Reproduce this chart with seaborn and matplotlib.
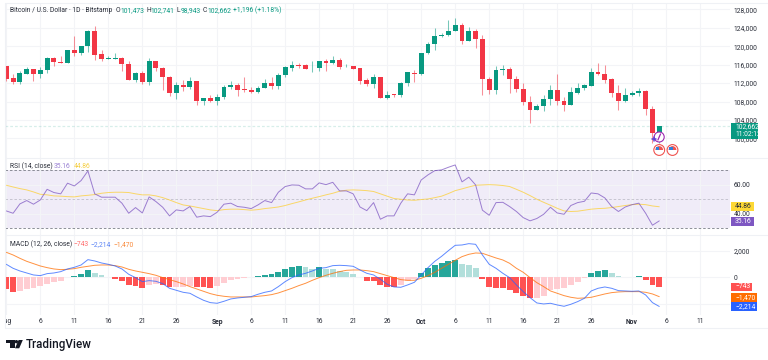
import numpy as np
import pandas as pd
import seaborn as sns
import matplotlib
matplotlib.use("Agg")
import matplotlib.pyplot as plt
from matplotlib.patches import Polygon, Circle, Rectangle, Wedge
from matplotlib.transforms import Bbox

opens = [115715,113114,112318,114052,114992,114052,114919,117449,116582,116437,119184,118606,119979,123303,118244,117304,117304,117377,116148,112679,114125,112246,116798,115281,113330,109861,111595,111089,112462,108199,108704,
         108126,109066,111089,111595,110728,110511,110006,110945,112029,111306,113835,115353,116004,115931,115209,115209,116726,116365,117015,115642,115715,115209,112679,111812,113257,108849,109572,109427,112101,114197,
         113908,118461,120557,122147,122363,123375,124676,121207,123231,121568,112824,110583,114919,115136,112896,110728,107982,106248,107042,108488,110511,108126,107332,109861,110872,111451,114414,113980,112824,109861,108126,
         109355,109861,110366,106392,101473]
highs = [115715,113980,114703,115570,114992,115570,117666,117666,117810,119184,122219,120123,123520,124387,119184,117955,118533,117593,116726,114414,114630,117377,116798,115425,113474,112246,112607,113330,112462,108849,109355,
         109716,111523,112462,111957,113330,111089,111451,112824,113257,114197,115642,116726,116365,116148,116798,116798,117232,117883,117377,116076,115787,115281,113185,113908,113330,110295,109644,112246,114486,114775,
         118533,120990,123881,122797,125688,126049,124965,124098,123737,122436,113257,115715,115931,115425,113619,111957,109138,107477,109355,111595,113908,109066,111089,111957,111812,115281,116293,115931,113040,111595,110872,
         110295,110945,110511,107115,102741]
lows = [112535,111812,111812,113980,112535,113185,114197,115715,116365,116365,117955,118172,118822,117015,116798,117232,117232,114558,112607,112173,111812,111595,114630,110511,109138,108632,110295,110728,107259,107259,107982,
        107187,108488,110656,109283,110150,109861,109933,110872,110800,110800,113402,114703,115209,115064,114341,114630,114703,116148,115136,115425,115064,111884,111378,111017,108704,108632,109066,109066,111378,112173,
        113763,118389,119256,122074,122219,123231,120484,121063,119617,109499,109644,109644,113763,109933,110150,107332,103429,106175,106031,107332,107332,106031,107259,109644,110511,111378,113763,111957,109066,106103,107982,
        109210,109283,105091,98948,98943]
closes = [112968,112318,114125,114992,114052,114919,117449,116582,116437,119184,118606,119979,123303,118172,117232,117449,117449,116148,112679,114125,112246,116798,115281,113330,109933,111595,111161,112462,108199,108704,108126,
          109066,111089,111595,110583,110583,110006,110945,112029,111306,113835,115425,115931,115787,115136,115353,116726,116293,117015,115498,115787,115136,112535,111812,113257,108849,109499,109427,112101,114341,113908,
          118533,120557,122147,122436,123375,124676,121207,123231,121568,112824,110583,114919,115136,112896,110728,107982,106248,107042,108488,110511,108126,107332,110006,110872,111595,114414,113980,112751,109861,108126,109427,
          109861,110366,106392,101261,102662]

rsi = [42.0,40.4,46.8,49.1,46.6,49.5,56.8,54.6,53.7,61.0,59.1,62.8,69.4,53.7,51.4,51.4,51.4,47.3,40.4,44.3,40.6,51.6,48.4,44.5,38.6,42.7,42.0,45.0,37.7,38.6,38.1,
       41.1,46.6,47.3,45.0,44.5,43.6,46.1,49.1,47.7,54.8,58.7,59.8,59.6,57.1,57.1,61.2,60.0,61.6,55.7,55.7,53.7,44.7,42.2,47.7,36.3,38.6,38.6,47.3,53.7,53.0,
       63.2,66.7,69.6,70.1,71.9,73.5,61.9,65.1,59.8,42.5,39.0,47.7,47.9,45.0,41.6,37.4,35.2,36.8,39.7,44.5,40.6,39.7,45.7,47.7,48.6,54.3,53.7,50.9,45.0,41.6,44.7,
       46.3,47.3,40.4,32.2,35.16]
rsi_ma = [59.6,58.4,57.3,56.4,55.0,53.4,53.0,52.3,52.1,51.8,51.6,52.3,52.7,53.2,54.1,54.6,54.8,54.8,54.6,53.7,53.0,53.0,52.3,51.1,49.5,47.7,46.1,45.4,44.5,43.6,42.7,
          42.2,42.9,43.2,43.2,42.9,42.5,42.9,43.6,44.1,44.7,45.7,47.0,48.2,49.5,50.7,51.8,53.0,54.1,55.5,56.2,56.4,56.2,55.9,55.3,53.7,52.1,50.5,50.0,49.5,49.3,
          49.8,50.2,51.1,52.1,53.9,55.9,57.1,58.4,59.6,59.8,60.0,59.8,59.4,58.7,56.8,54.8,52.5,50.0,47.9,45.9,43.8,42.0,41.6,41.8,42.5,43.2,43.6,43.8,44.3,45.0,45.7,
          46.3,46.6,46.3,45.4,44.86]
macd = [987,683,481,329,177,127,278,329,430,633,759,936,1341,1240,1088,987,860,633,228,-25,-329,-253,-304,-481,-835,-987,-1139,-1214,-1493,-1746,-1923,
        -1973,-1822,-1645,-1569,-1518,-1467,-1290,-1139,-1037,-708,-329,-25,177,304,481,683,734,886,911,886,835,557,304,177,-152,-531,-734,-759,-582,-380,
        177,734,1214,1594,2024,2429,2454,2555,2505,1695,987,683,304,-25,-582,-1088,-1543,-1948,-2024,-1973,-2100,-2201,-2049,-1847,-1594,-1037,-835,-734,-835,-1012,-1037,
        -1063,-1037,-1341,-1923,-2214]
signal = [1898,1695,1442,1214,1037,860,734,633,582,607,658,759,835,911,936,936,886,784,607,481,380,278,152,-25,-177,-329,-506,-708,-886,-1063,-1240,
          -1366,-1442,-1493,-1493,-1493,-1493,-1442,-1392,-1316,-1189,-1012,-835,-633,-455,-228,-25,152,304,430,531,557,557,506,430,278,127,-25,-177,-228,-228,
          -76,127,380,683,987,1290,1569,1746,1847,1822,1645,1467,1316,1063,683,380,-25,-405,-708,-1037,-1214,-1392,-1518,-1594,-1569,-1518,-1392,-1265,-1164,-1113,-1088,
          -1088,-1088,-1139,-1265,-1470]
hist = [-911,-1113,-1037,-911,-835,-658,-481,-354,-253,25,101,253,531,329,152,51,-101,-253,-557,-658,-784,-557,-506,-557,-759,-734,-734,-658,-759,-765,-784,
        -658,-430,-228,-127,-25,15,76,202,278,430,633,784,835,759,658,759,658,633,506,380,228,5,-253,-260,-582,-708,-759,-582,-253,-152,
        329,683,936,1113,1240,1290,987,936,734,-127,-734,-784,-835,-961,-1164,-1392,-1569,-1543,-1392,-961,-911,-835,-582,-329,-76,304,506,557,304,101,20,
        25,76,-202,-607,-743]

tick_days = [0,5,10,15,20,25,31,36,41,46,51,56,61,66,71,76,81,86,92,97,102]
tick_names = ["Aug","6","11","16","21","26","Sep","6","11","16","21","26","Oct","6","11","16","21","26","Nov","6","11"]
price_ticks = [100000,104000,108000,112000,116000,120000,124000,128000]
rsi_ticks = [40,60]
macd_ticks = [-2000,0,2000]

FONT = "Roboto"
GREEN, RED = "#089981", "#f23645"
GRID = "#f3f4f7"
TXT = "#2a2e39"
FS = 4.85
sns.set_theme(style="white")
plt.rcParams["font.family"] = FONT
W, H = 768, 360
fig = plt.figure(figsize=(W/100, H/100), dpi=100, facecolor="white")

def pane(top, bottom, left=5, right=730):
    return fig.add_axes([left/W, 1-bottom/H, (right-left)/W, (bottom-top)/H])

days = np.arange(len(closes))
xlim = (-0.19, 106.4)

# ---- price
a1 = pane(2.5, 157.5)
o, h, l, c = map(np.array, (opens, highs, lows, closes))
up = c >= o
cols = np.where(up, GREEN, RED)
a1.axhline(closes[-1], color=GREEN, ls=(0, (2.2, 1.6)), lw=0.9, alpha=0.16, zorder=1)
a1.vlines(days, l, h, colors=cols, lw=0.75, alpha=0.55, zorder=2)
bot = np.minimum(o, c); ht = np.maximum(np.abs(c-o), 120)
a1.bar(days, ht, bottom=bot, width=0.72, color=cols, linewidth=0, zorder=3)
a1.set_ylim(95870, 129474)
a1.set_yticks(price_ticks, [f"{v:,}" for v in price_ticks])

# ---- RSI
a2 = pane(157.5, 235)
a2.axhspan(30, 70, color="#7e57c2", alpha=0.11, lw=0, zorder=0)
for lv, al in ((70, 0.85), (50, 0.35), (30, 0.85)):
    a2.axhline(lv, color="#787b86", lw=0.7, ls=(0, (2.6, 2.0)), alpha=al, zorder=1)
df = pd.DataFrame({"d": days, "rsi": rsi, "ma": rsi_ma})
sns.lineplot(df, x="d", y="ma", ax=a2, color="#fbd34d", lw=0.7, alpha=0.85, zorder=3, errorbar=None)
sns.lineplot(df, x="d", y="rsi", ax=a2, color="#7e57c2", lw=0.7, alpha=0.75, zorder=4, errorbar=None)
a2.set_ylim(25.5, 78.6)
a2.set_yticks(rsi_ticks, ["40.00", "60.00"])

# ---- MACD
a3 = pane(235, 315)
a3.axhline(0, color="#c9ccd4", lw=0.7, ls=(0, (3, 2.4)), zorder=0.5)
kind = []
for i, v in enumerate(hist):
    prev = hist[i-1] if i else (v - 1 if v > 0 else v + 1)
    if v >= 0:
        kind.append("up+" if v > prev else "dn+")
    else:
        kind.append("dn-" if v < prev else "up-")
hd = pd.DataFrame({"d": days, "v": hist, "k": kind})
sns.barplot(hd, x="d", y="v", hue="k", dodge=False, native_scale=True, ax=a3, width=0.86,
            palette={"up+": "#26a69a", "dn+": "#b2dfdb", "up-": "#ffcdd2", "dn-": "#ff5252"},
            saturation=1, legend=False, linewidth=0, zorder=2)
df2 = pd.DataFrame({"d": days, "m": macd, "s": signal})
sns.lineplot(df2, x="d", y="s", ax=a3, color="#ff6d00", lw=0.7, alpha=0.75, zorder=3, errorbar=None)
sns.lineplot(df2, x="d", y="m", ax=a3, color="#2962ff", lw=0.7, alpha=0.75, zorder=4, errorbar=None)
a3.set_ylim(-2863, 3212)
a3.set_yticks(macd_ticks, ["\u22122,000", "0", "2,000"])

for ax in (a1, a2, a3):
    ax.set_xlim(*xlim)
    ax.set_xlabel(""); ax.set_ylabel("")
    ax.set_xticks(tick_days)
    ax.set_axisbelow(True)
    ax.grid(True, color=GRID, lw=0.8)
    ax.yaxis.tick_right()
    ax.tick_params(axis="y", length=0, pad=2.6, labelsize=FS, labelcolor=TXT)
    for t in ax.get_yticklabels():
        t.set_ha("left")
    ax.patch.set_alpha(0)
    for s in ax.spines.values():
        s.set_visible(False)
for ax in (a1, a2):
    ax.tick_params(axis="x", length=0, labelbottom=False)
a3.set_xticklabels(tick_names)
a3.tick_params(axis="x", length=0, pad=2.2, labelsize=FS, labelcolor=TXT)
for t, n in zip(a3.get_xticklabels(), tick_names):
    if n in ("Sep", "Oct", "Nov"):
        t.set_fontweight("bold")
    if n == "Aug":
        t.set_clip_box(Bbox([[5, 0], [40, 360]])); t.set_clip_on(True)

# ---- overlay in pixel coordinates
ov = fig.add_axes([0, 0, 1, 1], zorder=10)
ov.set_xlim(0, W); ov.set_ylim(H, 0); ov.axis("off")
for y in (2.5, 157.5, 235, 328):
    ov.plot([5, W], [y, y], color="#eff1f5", lw=0.8)
ov.plot([5, 5], [2.5, 328], color="#eff1f5", lw=0.8)

def tx(x, y, s, color=TXT, size=FS, **kw):
    return ov.text(x, y, s, color=color, fontsize=size, va="center", ha=kw.pop("ha", "left"), **kw)

tx(10, 10.5, "Bitcoin / U.S. Dollar \u00b7 1D \u00b7 Bitstamp")
for x, s, col in [(115.5, "O", TXT), (120, "101,473", GREEN), (146.3, "H", TXT), (150.8, "102,741", GREEN),
                  (176.5, "L", TXT), (180.5, "98,943", GREEN), (202.5, "C", TXT), (207, "102,662", GREEN),
                  (233, "+1,196 (+1.18%)", GREEN)]:
    tx(x, 10.5, s, col)
tx(10, 166, "RSI (14, close)")
tx(54, 166, "35.16", "#9b82d4")
tx(74, 166, "44.86", "#f5cf45")
tx(10, 244.5, "MACD (12, 26, close)")
tx(73, 244.5, "\u2212743", "#ff6b6b")
tx(90.5, 244.5, "\u22122,214", "#5b84f5")
tx(113.3, 244.5, "\u22121,470", "#f98a3c")

def tag(x0, x1, y0, y1, color, lines, fg="white"):
    ov.add_patch(Rectangle((x0, y0), x1-x0, y1-y0, fc=color, ec="none", zorder=5))
    n = len(lines)
    for i, s in enumerate(lines):
        ov.text(735, y0+(y1-y0)*(i+0.5)/n, s, color=fg, fontsize=FS, va="center", zorder=6)

tag(730.5, 757.5, 122.5, 139, GREEN, ["102,662", "11:02:12"])
tag(730.5, 753.5, 202, 211, "#fdd835", ["44.86"], fg=TXT)
tag(730.5, 753.5, 217, 225.5, "#7e57c2", ["35.16"])
tag(730.5, 751.7, 282.7, 291, "#ff5252", ["\u2212743"])
tag(730.5, 757.3, 293.3, 301.7, "#ff6d00", ["\u22121,470"])
tag(730.5, 757.3, 302.3, 310.7, "#2962ff", ["\u22122,214"])

# event markers
ov.add_patch(Circle((659.2, 137), 5.0, fc="white", ec="#9c27b0", lw=0.8, zorder=7))
ov.plot([657.9, 660.5], [140, 134], color="#9c27b0", lw=0.9, zorder=8)
ov.plot([651.5, 655.5], [139, 139], color="#5b3fd6", lw=1.1, zorder=8)
ov.plot([653.5, 653.5], [137, 141], color="#5b3fd6", lw=1.1, zorder=8)
for cx in (659.2, 672.5):
    ov.add_patch(Circle((cx, 150), 5.4, fc="white", ec="#ef5350", lw=0.8, zorder=7))
    ov.add_patch(Wedge((cx, 150), 3.9, 180, 360, fc="#ef5350", ec="none", zorder=8))
    ov.add_patch(Wedge((cx, 150), 3.9, 0, 180, fc="white", ec="none", zorder=8))
    ov.add_patch(Rectangle((cx-3.6, 146.6), 3.6, 3.2, fc="#2f7fd8", ec="none", zorder=9))
    ov.plot([cx+0.4, cx+3.6], [150.7, 150.7], color="white", lw=0.7, zorder=9)

# TradingView logo
k = "#131722"
ov.add_patch(Polygon([(6, 340), (14.5, 340), (14.5, 348.3), (10.4, 348.3), (10.4, 343.4), (6, 343.4)], fc=k, ec="none"))
ov.add_patch(Circle((16.4, 341.7), 1.7, fc=k, ec="none"))
ov.add_patch(Polygon([(18.6, 340), (22.8, 340), (19.2, 348.3), (15, 348.3)], fc=k, ec="none"))
tx(26, 344.2, "TradingView", k, size=8.4, fontweight="medium")

fig.savefig("out.png", dpi=100)
